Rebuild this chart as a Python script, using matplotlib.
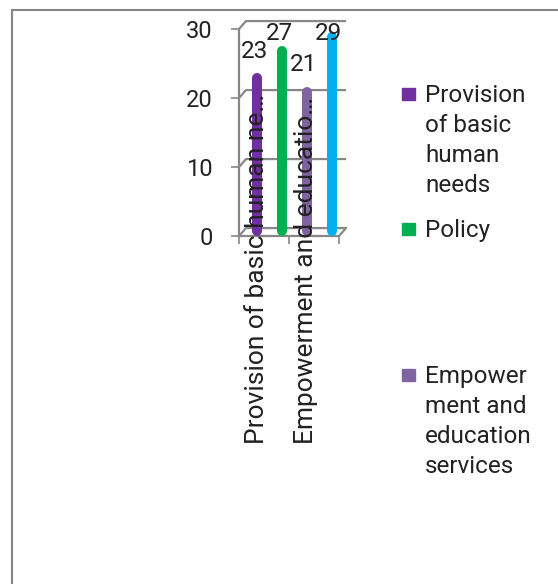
import numpy as np
import matplotlib.pyplot as plt
from matplotlib.patches import Rectangle

plt.rcParams['font.family'] = ['Roboto', 'DejaVu Sans']

W, H, DPI = 558, 584, 100

# ---- data ----
categories = ["Provision of basic human ne\u2026", "Empowerment and educatio\u2026"]
bar_category = [0, 0, 1, 1]
bar_slot = [0, 1, 0, 1]
values = [23, 27, 21, 29]
colors = ["#7030A0", "#00B050", "#8064A2", "#00B0F0"]
legend_labels = ["Provision\nof basic\nhuman\nneeds", "Policy", "Empower\nment and\neducation\nservices"]
legend_colors = ["#7030A0", "#00B050", "#8064A2"]
yticks = [0, 10, 20, 30]

gray = "#878787"
txt = "#222222"
dx, dy = 0.14, 1.15     # fake 3d depth in data units
bar_lw = 7.2            # points (~10 px)
cap = 0.72              # half bar width in y data units (round caps)
line_px = 30            # legend line height in px

fig = plt.figure(figsize=(W / DPI, H / DPI), dpi=DPI)

def fx(x):
    return x / W

def fy(y):
    return 1 - y / H

# outer chart frame (cut off at right / bottom)
fig.add_artist(plt.Line2D([fx(12), fx(12)], [fy(10), 0], color=gray, lw=1.5))
fig.add_artist(plt.Line2D([fx(12), 1], [fy(10), fy(10)], color=gray, lw=1.5))

ax = fig.add_axes([fx(239), fy(236), 100 / W, 207 / H])
ax.set_xlim(-0.5, 1.5)
ax.set_ylim(0, 30)
ax.patch.set_visible(False)
ax.set_axisbelow(False)
for s in ax.spines.values():
    s.set_visible(False)

# back wall gridlines + floor
for v in yticks:
    ax.plot([-0.5, -0.5 + dx, 1.5 + dx], [v, v + dy, v + dy], color=gray, lw=1.6,
            clip_on=False, solid_capstyle='butt', zorder=1)
ax.plot([-0.5, 1.5, 1.5 + dx], [0, 0, dy], color=gray, lw=1.6, clip_on=False, zorder=1)
ax.plot([-0.5, -0.5], [0, 30], color=gray, lw=1.6, clip_on=False, zorder=1)

# bars (cylinders with rounded ends)
xs = np.array(bar_category) + 0.1 + (np.array(bar_slot) - 0.5) * 0.5
vals = np.array(values, dtype=float)
ax.vlines(xs, dy / 2 + cap * 0.3, vals + dy / 2 - cap, colors=colors, lw=bar_lw,
          capstyle='round', zorder=2, clip_on=False)

# data labels (clamped inside plot like the original)
for x, v in zip(xs, values):
    ax.text(x - 0.05, min(v + 3.8, 29.3), str(v), ha='center', va='center',
            fontsize=17.5, color=txt, zorder=4)

# y axis
ax.set_yticks(yticks)
ax.tick_params(axis='y', length=5.8, width=1.2, color=gray, labelsize=17,
               pad=13, labelcolor=txt)

# x axis: boundary ticks + rotated category labels
ax.set_xticks([-0.5, 0.5, 1.5], minor=True)
ax.tick_params(axis='x', which='minor', length=5.8, width=1.2, color=gray)
ax.set_xticks(np.arange(len(categories)) - 0.15, categories, rotation=90, va='bottom')
ax.tick_params(axis='x', which='major', length=0, labelsize=19, pad=150,
               labelcolor=txt)

# legend (manual, Excel-style wrapped entries); first-line baselines in px
legend_base = [102, 237, 383]
for lab, c, y in zip(legend_labels, legend_colors, legend_base):
    n = lab.count("\n")
    fig.add_artist(Rectangle((fx(402), fy(y - 2)), 13 / W, 12 / H, color=c,
                             transform=fig.transFigure))
    # va='baseline' anchors the last line of a multi-line text
    fig.text(fx(425), fy(y + n * line_px), lab, ha='left', va='baseline',
             fontsize=17.5, color=txt, linespacing=1.39)

fig.savefig("out.png", dpi=DPI)
